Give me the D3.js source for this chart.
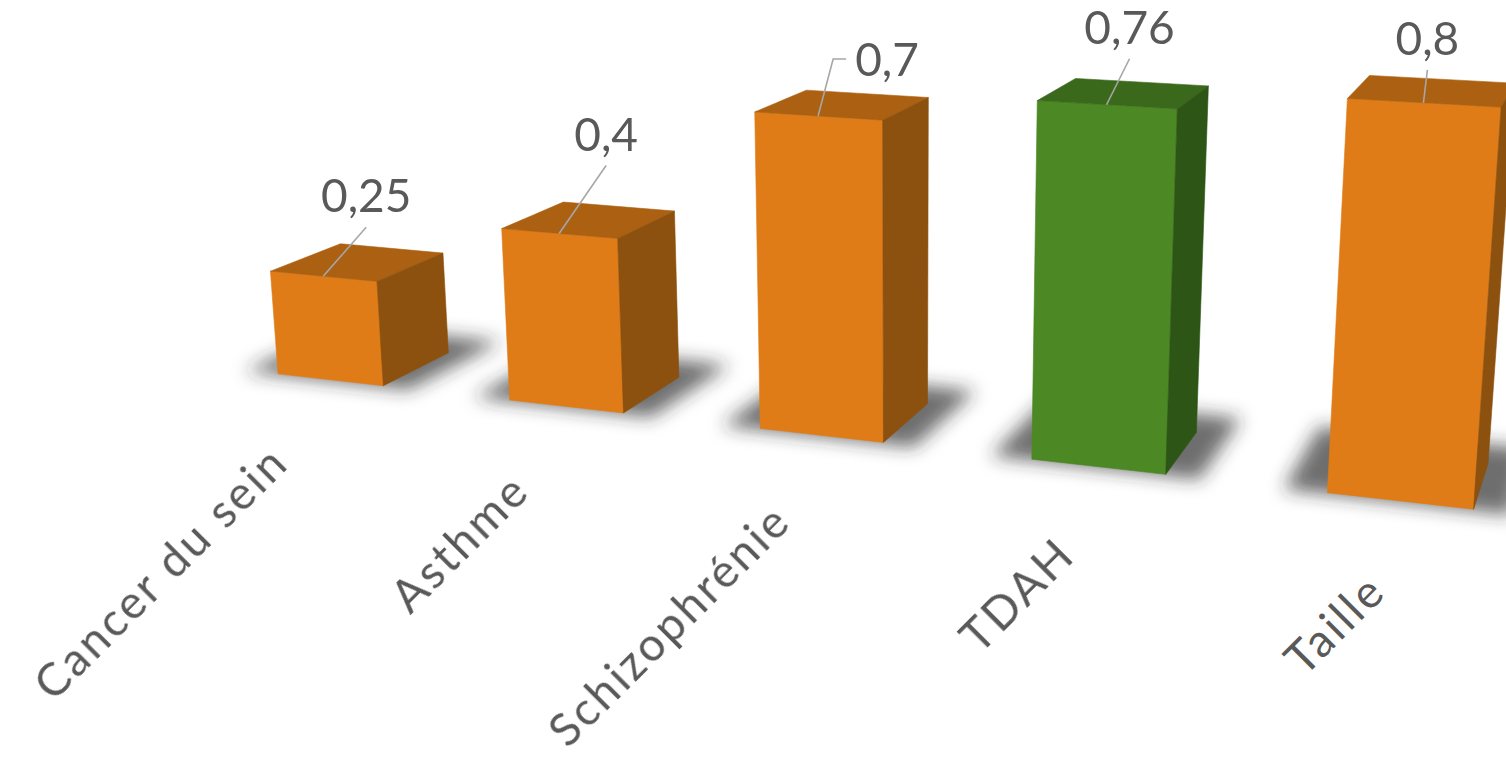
<!DOCTYPE html>
<html><head><meta charset="utf-8">
<script src="https://cdn.jsdelivr.net/npm/d3@7"></script>
<style>body{margin:0;background:#fff;overflow:hidden} svg{display:block}</style>
</head><body>
<svg id="chart" width="1506" height="758"></svg>
<script>
// ---- data ----
const categories = ["Cancer du sein", "Asthme", "Schizophrénie", "TDAH", "Taille"];
const values = [0.25, 0.4, 0.7, 0.76, 0.8];
const highlighted = ["TDAH"];
// manual data-label nudges (screen px) from each bar's top-front centre
const labelNudge = [[43, -64], [47, -83], [69, -40], [23, -61], [4, -48]];

// ---- styles ----
const palette = {
  normal: {front: "#df7c17", top: "#ab6111", side: "#8c510e"},
  highlight: {front: "#4c8824", top: "#3b691c", side: "#2d5515"}
};
const textColor = "#595959";
const fontFamily = "Lato, 'Open Sans', sans-serif";
const fr = d3.formatLocale({decimal: ",", thousands: " ", grouping: [3], currency: ["", ""]}).format("~g");

// ---- 3D camera ----
const cam = {pos: [0, 100, 0], f: 2252, cx: 905, cy: 295,
             pitch: 14.8 * Math.PI / 180, yaw: -19.5 * Math.PI / 180};
const sp = Math.sin(cam.pitch), cp = Math.cos(cam.pitch),
      sa = Math.sin(cam.yaw), ca = Math.cos(cam.yaw);
const fwd = [cp * sa, -sp, cp * ca], rgt = [ca, 0, -sa], dwn = [-sp * sa, -cp, -sp * ca];
const dot = (a, b) => a[0] * b[0] + a[1] * b[1] + a[2] * b[2];
function project([X, Y, Z]) {
  const p = [X - cam.pos[0], Y - cam.pos[1], Z - cam.pos[2]];
  const d = dot(p, fwd);
  return [cam.cx + cam.f * dot(p, rgt) / d, cam.cy + cam.f * dot(p, dwn) / d];
}

// ---- world scales ----
const x = d3.scaleBand().domain(categories).range([-212.0, -11.3]).paddingInner(0.536).paddingOuter(0.268);
const y = d3.scaleLinear().domain([0, 1]).range([0, 65]);
const zFront = 280, depth = 18.9;

const svg = d3.select("#chart");
const defs = svg.append("defs");
defs.append("filter").attr("id", "shadowBlur").attr("x", "-50%").attr("y", "-50%")
  .attr("width", "200%").attr("height", "200%")
  .append("feGaussianBlur").attr("stdDeviation", 9);

const line = d3.line();
const poly = pts => line(pts.map(project)) + "Z";

const bars = categories.map((c, i) => {
  const x0 = x(c), x1 = x0 + x.bandwidth(), h = y(values[i]);
  return {c, i, v: values[i], x0, x1, h, z0: zFront, z1: zFront + depth,
          col: highlighted.includes(c) ? palette.highlight : palette.normal};
});

// shadows
const w = x.bandwidth();
svg.append("g").attr("filter", "url(#shadowBlur)").selectAll("path").data(bars).join("path")
  .attr("d", b => poly([[b.x0 - 0.3 * w, 0, b.z0 - 0.03 * w], [b.x1 + 0.25 * w, 0, b.z0 - 0.03 * w],
                        [b.x1 + 0.25 * w, 0, b.z1 + 0.45 * w], [b.x0 - 0.3 * w, 0, b.z1 + 0.45 * w]]))
  .attr("fill", "#2a2a2a").attr("opacity", 0.68);

// bars
const gb = svg.append("g").selectAll("g").data(bars).join("g");
gb.append("path").attr("d", b => poly([[b.x0, 0, b.z0], [b.x1, 0, b.z0], [b.x1, b.h, b.z0], [b.x0, b.h, b.z0]]))
  .attr("fill", b => b.col.front).attr("stroke", b => b.col.front).attr("stroke-width", 0.6);
gb.append("path").attr("d", b => poly([[b.x0, b.h, b.z0], [b.x1, b.h, b.z0], [b.x1, b.h, b.z1], [b.x0, b.h, b.z1]]))
  .attr("fill", b => b.col.top).attr("stroke", b => b.col.top).attr("stroke-width", 0.6);
gb.append("path").attr("d", b => poly([[b.x1, 0, b.z0], [b.x1, 0, b.z1], [b.x1, b.h, b.z1], [b.x1, b.h, b.z0]]))
  .attr("fill", b => b.col.side).attr("stroke", b => b.col.side).attr("stroke-width", 0.6);

// category labels
svg.append("g").selectAll("text").data(bars).join("text")
  .attr("transform", b => {
    const p = project([b.x0 + w / 2, 0, zFront - 10]);
    return `translate(${p[0] - 1},${p[1] + 67}) rotate(-45)`;
  })
  .attr("text-anchor", "end").attr("font-family", fontFamily).attr("font-size", 46)
  .attr("letter-spacing", 2.8)
  .attr("fill", textColor).text(b => b.c);

// data labels + leader lines
const gl = svg.append("g");
bars.forEach((b, i) => {
  const p = project([b.x0 + w / 2, b.h, b.z0]);
  const tx = p[0] + labelNudge[i][0], ty = p[1] + labelNudge[i][1];
  const t = gl.append("text").attr("x", tx).attr("y", ty).attr("text-anchor", "middle")
    .attr("font-family", fontFamily).attr("font-size", 46).attr("fill", textColor).text(fr(b.v));
  const tw = t.node().getComputedTextLength();
  const midY = ty - 17, dx = p[0] - tx, dy = p[1] - midY;
  let pts;
  if (Math.abs(dx) > Math.abs(dy)) {
    const sx = dx < 0 ? tx - tw / 2 - 9 : tx + tw / 2 + 9;
    const ex = dx < 0 ? sx - 13 : sx + 13;
    pts = [p, [ex, midY], [sx, midY]];
  } else {
    pts = [p, [tx, ty + 15]];
  }
  gl.insert("path", "text").attr("d", line(pts)).attr("fill", "none")
    .attr("stroke", "#a6a6a6").attr("stroke-width", 1.6);
});
</script>
</body></html>
